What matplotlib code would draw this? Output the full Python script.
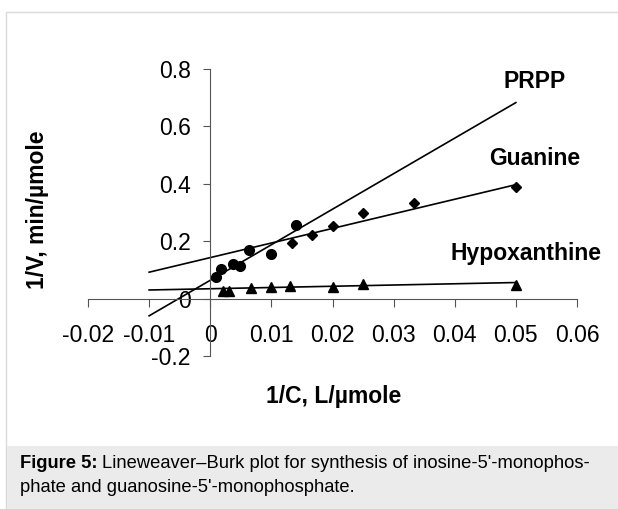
import matplotlib
matplotlib.use("Agg")
import matplotlib.pyplot as plt
from matplotlib.patches import Rectangle

plt.rcParams['font.family'] = ['Liberation Sans', 'DejaVu Sans']

# data
prpp_x = [0.0010, 0.0017, 0.0038, 0.0048, 0.0064, 0.0099, 0.0141]
prpp_y = [0.075, 0.103, 0.122, 0.114, 0.168, 0.157, 0.255]

guan_x = [0.0134, 0.0167, 0.020, 0.025, 0.0333, 0.050]
guan_y = [0.194, 0.222, 0.253, 0.300, 0.334, 0.388]

hypo_x = [0.0021, 0.0031, 0.0066, 0.0099, 0.0131, 0.020, 0.025, 0.050]
hypo_y = [0.026, 0.026, 0.037, 0.040, 0.044, 0.041, 0.052, 0.049]

# trend lines (end points)
fit_x = [-0.01, 0.05]
prpp_fit = [-0.060, 0.683]
guan_fit = [0.092, 0.397]
hypo_fit = [0.030, 0.056]

xticks = [-0.02, -0.01, 0, 0.01, 0.02, 0.03, 0.04, 0.05, 0.06]
xtick_labels = ['-0.02', '-0.01', '0', '0.01', '0.02', '0.03', '0.04', '0.05', '0.06']
yticks = [-0.2, 0, 0.2, 0.4, 0.6, 0.8]
ytick_labels = ['-0.2', '0', '0.2', '0.4', '0.6', '0.8']

W, H = 618, 509
fig = plt.figure(figsize=(W / 100, H / 100), dpi=100)

# page frame and caption box
fig.patches.append(Rectangle((6 / W, 0), 1.0, (H - 12) / H, transform=fig.transFigure,
                             facecolor='white', edgecolor='#d9d9d9', linewidth=1.0, zorder=0))
fig.patches.append(Rectangle((6.5 / W, 0), 1.0, (H - 446) / H, transform=fig.transFigure,
                             facecolor='#ebebeb', edgecolor='none', zorder=1))

ax = fig.add_axes([88 / W, (H - 356) / H, (577 - 88) / W, (356 - 69) / H])
ax.set_zorder(3)
ax.patch.set_alpha(0)

ax.plot(fit_x, prpp_fit, color='black', lw=1.2)
ax.plot(fit_x, guan_fit, color='black', lw=1.2)
ax.plot(fit_x, hypo_fit, color='black', lw=1.2)

ax.plot(prpp_x, prpp_y, 'o', color='black', ms=7, ls='none')
ax.plot(guan_x, guan_y, 'D', color='black', ms=5.5, ls='none')
ax.plot(hypo_x, hypo_y, '^', color='black', ms=7.3, ls='none')

ax.set_xlim(-0.02, 0.06)
ax.set_ylim(-0.2, 0.8)
ax.spines['left'].set_position(('data', 0))
ax.spines['bottom'].set_position(('data', 0))
ax.spines['top'].set_visible(False)
ax.spines['right'].set_visible(False)
for s in ['left', 'bottom']:
    ax.spines[s].set_color('#555555')
    ax.spines[s].set_linewidth(0.8)

ax.set_xticks(xticks)
ax.set_xticklabels(xtick_labels)
ax.set_yticks(yticks)
ax.set_yticklabels(ytick_labels)
ax.tick_params(axis='x', direction='out', length=6, width=0.8, color='#555555',
               labelsize=16.5, pad=12)
ax.tick_params(axis='y', direction='out', length=5, width=0.8, color='#555555',
               labelsize=16.5, pad=9)

ax.text(0.0531, 0.755, 'PRPP', fontsize=16.5, fontweight='bold', ha='center', va='center')
ax.text(0.0530, 0.487, 'Guanine', fontsize=16.5, fontweight='bold', ha='center', va='center')
ax.text(0.0516, 0.157, 'Hypoxanthine', fontsize=16.5, fontweight='bold', ha='center', va='center')

fig.text(334 / W, 1 - 397 / H, '1/C, L/µmole', fontsize=16.5, fontweight='bold',
         ha='center', va='center', zorder=3)
fig.text(38 / W, 1 - 210 / H, '1/V, min/µmole', fontsize=16.5, fontweight='bold',
         ha='center', va='center', rotation=90, zorder=3)

# caption
cap_size = 13.2
t1 = fig.text(20 / W, 1 - 463 / H, 'Figure 5:', fontsize=cap_size, fontweight='bold',
              ha='left', va='center', zorder=3)
fig.canvas.draw()
bb = t1.get_window_extent()
fig.text((bb.x1 + 4) / W, 1 - 463 / H,
         "Lineweaver\u2013Burk plot for synthesis of inosine-5'-monophos-",
         fontsize=cap_size, ha='left', va='center', zorder=3)
fig.text(20 / W, 1 - 488 / H, "phate and guanosine-5'-monophosphate.",
         fontsize=cap_size, ha='left', va='center', zorder=3)

fig.savefig('out.png', dpi=100)
